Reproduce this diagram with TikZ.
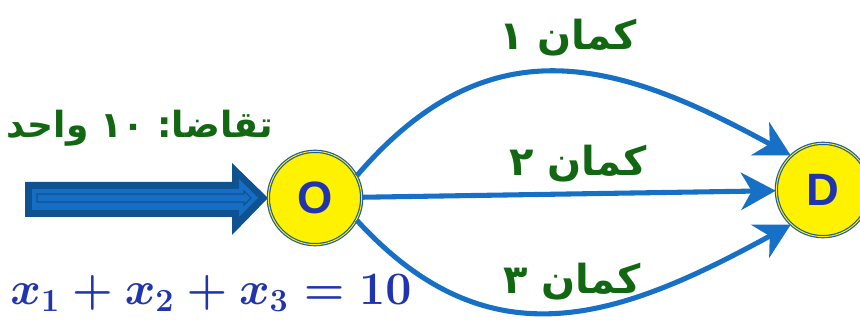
\documentclass[tikz,border=0pt]{standalone}
\usepackage{fontspec}
\usepackage{tkz-euclide}
\usetikzlibrary{arrows.meta}
\TeXXeTstate=1
\newfontfamily\farsi[Script=Arabic]{DejaVu Sans}
\newfontfamily\heads{Liberation Sans}
\definecolor{linkblue}{RGB}{22,112,198}
\definecolor{ringblue}{RGB}{30,90,160}
\definecolor{letterblue}{RGB}{32,52,175}
\definecolor{labgreen}{RGB}{18,104,18}
\definecolor{feeddark}{RGB}{14,82,145}
\definecolor{feedlight}{RGB}{22,110,196}
\tikzset{
  station/.style={circle,draw=ringblue,double=yellow,double distance=0.7pt,line width=0.9pt,
    fill=yellow,minimum size=70pt,inner sep=0pt,text=letterblue,
    font=\heads\bfseries\fontsize{34}{36}\selectfont},
  link/.style={draw=linkblue,line width=3.8pt,-{Stealth[length=26pt,width=28pt,inset=8pt]}},
  lab/.style={text=labgreen,font=\farsi\bfseries\fontsize{30}{34}\selectfont,inner sep=0pt},
}

\begin{document}
\begin{tikzpicture}[x=0.75pt,y=0.75pt]
            \useasboundingbox (0,0) rectangle (860,320);
            \tkzDefPoint(315,122){O}
            \tkzDefPoint(823,130){D}
            \fill[feeddark] (25,138) -- (232,138) -- (232,157) -- (268,122) -- (232,85) -- (232,103) -- (25,103) -- cycle;
            \fill[feedlight] (32,131) -- (239,131) -- (239,141) -- (258,122) -- (239,103) -- (239,110) -- (32,110) -- cycle;
            \draw[feeddark,line width=0.8pt] (37,126) -- (244,126) -- (244,129) -- (251,122) -- (244,115) -- (244,118) -- (37,118) -- cycle;
            \node[station] (nO) at (O) {O};
            \node[station] (nD) at (D) {D};
            \draw[link] (nO.28) .. controls (490,300) and (620,258) .. (nD.133);
            \draw[link] (nO) -- (nD);
            \draw[link] (nO.-28) .. controls (490,-46) and (620,2) .. (nD.-133);
            \node[lab] (arc1) at (568,282) {\beginR کمان ۱\endR};
            \node[lab] (arc2) at (578,156) {\beginR کمان ۲\endR};
            \node[lab] (arc3) at (572,38) {\beginR کمان ۳\endR};
            \node[lab,font=\farsi\bfseries\fontsize{27}{30}\selectfont] (demand) at (140,192) {\beginR تقاضا:\beginL\ ۱۰\ \endL{}واحد\endR};
            \node[text=letterblue,font=\boldmath\fontsize{20}{24}\selectfont,scale=1.68,transform shape,inner sep=0pt] (flow) at (211,27) {$x_1+x_2+x_3=10$};
        \end{tikzpicture}
\end{document}
